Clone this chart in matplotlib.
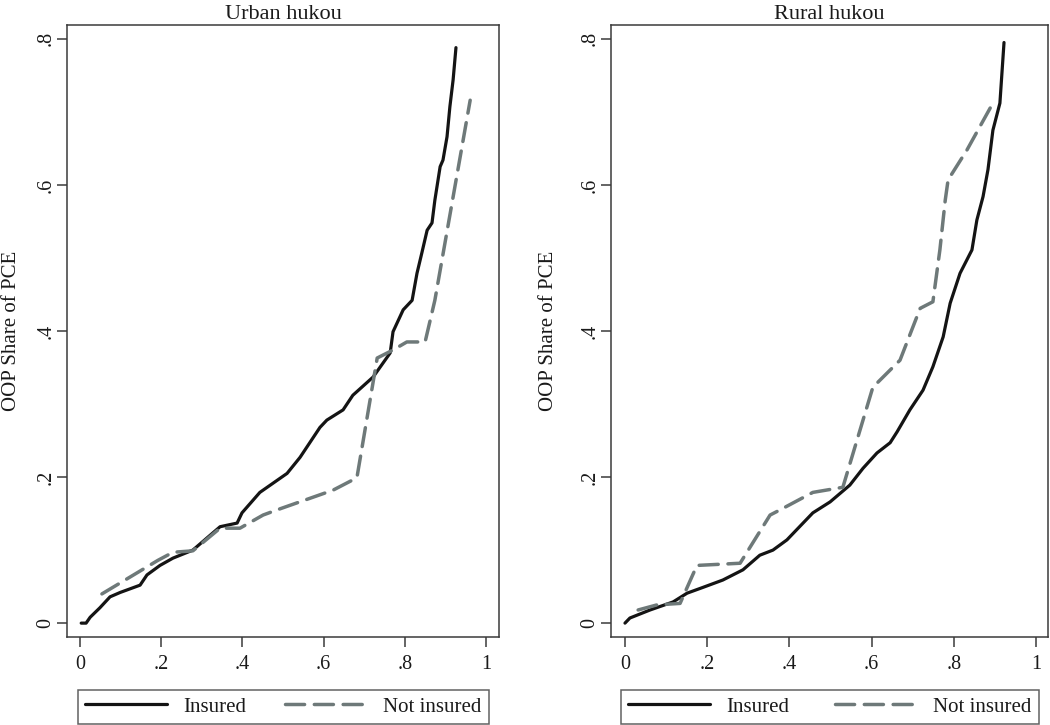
import matplotlib
matplotlib.use("Agg")
import matplotlib.pyplot as plt

plt.rcParams['font.family'] = ['Liberation Serif', 'DejaVu Serif']

# ---- data ----
urban_ins_x = [0.003, 0.015, 0.025, 0.049, 0.074, 0.099, 0.148, 0.165, 0.197, 0.229, 0.278,
               0.345, 0.387, 0.399, 0.443, 0.510, 0.542, 0.591, 0.608, 0.648, 0.672, 0.722,
               0.764, 0.771, 0.796, 0.818, 0.830, 0.842, 0.855, 0.867, 0.874, 0.887, 0.894,
               0.904, 0.911, 0.919, 0.926]
urban_ins_y = [0.000, 0.000, 0.008, 0.021, 0.036, 0.042, 0.052, 0.066, 0.079, 0.089, 0.100,
               0.132, 0.137, 0.151, 0.179, 0.205, 0.227, 0.268, 0.278, 0.292, 0.312, 0.337,
               0.370, 0.399, 0.429, 0.442, 0.479, 0.507, 0.538, 0.548, 0.579, 0.625, 0.634,
               0.666, 0.707, 0.744, 0.788]

urban_not_x = [0.054, 0.192, 0.229, 0.278, 0.345, 0.394, 0.451, 0.485, 0.623, 0.682, 0.732,
               0.771, 0.805, 0.850, 0.874, 0.961]
urban_not_y = [0.040, 0.086, 0.097, 0.099, 0.130, 0.130, 0.148, 0.155, 0.182, 0.199, 0.363,
               0.374, 0.385, 0.385, 0.442, 0.716]

rural_ins_x = [0.000, 0.012, 0.061, 0.117, 0.151, 0.190, 0.238, 0.287, 0.328, 0.360, 0.394,
               0.457, 0.499, 0.547, 0.579, 0.613, 0.645, 0.662, 0.693, 0.725, 0.749, 0.774,
               0.791, 0.815, 0.844, 0.856, 0.871, 0.883, 0.895, 0.912, 0.922]
rural_ins_y = [0.000, 0.007, 0.018, 0.029, 0.041, 0.049, 0.059, 0.073, 0.093, 0.100, 0.114,
               0.151, 0.166, 0.189, 0.212, 0.233, 0.247, 0.262, 0.292, 0.319, 0.351, 0.392,
               0.438, 0.479, 0.511, 0.552, 0.584, 0.621, 0.675, 0.712, 0.795]

rural_not_x = [0.032, 0.078, 0.134, 0.175, 0.280, 0.353, 0.377, 0.457, 0.530, 0.603, 0.669,
               0.718, 0.749, 0.766, 0.779, 0.786, 0.832, 0.891]
rural_not_y = [0.018, 0.025, 0.027, 0.079, 0.082, 0.148, 0.155, 0.179, 0.186, 0.323, 0.360,
               0.431, 0.440, 0.511, 0.579, 0.607, 0.648, 0.708]

panel_titles = ["Urban hukou", "Rural hukou"]
series_labels = ["Insured", "Not insured"]
x_ticks = [0, 0.2, 0.4, 0.6, 0.8, 1.0]
x_ticklabels = ["0", ".2", ".4", ".6", ".8", "1"]
y_ticks = [0, 0.2, 0.4, 0.6, 0.8]
y_ticklabels = ["0", ".2", ".4", ".6", ".8"]
y_label = "OOP Share of PCE"

BLACK = "#141414"
GRAY = "#6e7979"
SPINE = "#3a3a3a"

W, H = 1050, 725
fig = plt.figure(figsize=(W / 100, H / 100), dpi=100)
fig.patch.set_facecolor("white")

def px_axes(x0, x1, y0, y1):
    return fig.add_axes([x0 / W, (H - y1) / H, (x1 - x0) / W, (y1 - y0) / H])

panels = [
    dict(rect=(67, 499, 25, 637), xlim=(-0.032, 1.032), ylab_x=-0.106,
         ins=(urban_ins_x, urban_ins_y), nott=(urban_not_x, urban_not_y),
         leg=(78, 489, 684, 724)),
    dict(rect=(611, 1048, 25, 637), xlim=(-0.034, 1.029), ylab_x=-0.121,
         ins=(rural_ins_x, rural_ins_y), nott=(rural_not_x, rural_not_y),
         leg=(621, 1039, 684, 724)),
]

for title, p in zip(panel_titles, panels):
    ax = px_axes(*p["rect"])
    l1, = ax.plot(p["ins"][0], p["ins"][1], color=BLACK, lw=2.3,
                  solid_joinstyle="round", solid_capstyle="round", label=series_labels[0])
    l2, = ax.plot(p["nott"][0], p["nott"][1], color=GRAY, lw=2.5, dashes=(5.5, 2.8),
                  dash_capstyle="round", label=series_labels[1])
    ax.set_xlim(*p["xlim"])
    ax.set_ylim(-0.019, 0.819)
    ax.set_xticks(x_ticks)
    ax.set_xticklabels(x_ticklabels)
    ax.set_yticks(y_ticks)
    ax.set_yticklabels(y_ticklabels, rotation=90, va="center")
    ax.tick_params(axis="both", direction="out", length=7, width=1.1, color=SPINE,
                   labelsize=14.5, labelcolor="#1a1a1a")
    ax.tick_params(axis="x", pad=6)
    ax.tick_params(axis="y", pad=1.5)
    for s in ax.spines.values():
        s.set_color(SPINE)
        s.set_linewidth(1.1)
    ax.set_title(title, fontsize=16, pad=4, color="#1a1a1a")
    ax.set_ylabel(y_label, fontsize=15, color="#1a1a1a")
    ax.yaxis.set_label_coords(p["ylab_x"], 0.5)

    lx0, lx1, ly0, ly1 = p["leg"]
    leg = fig.legend(handles=[l1, l2], labels=series_labels, ncol=2, mode="expand",
                     loc="lower left",
                     bbox_to_anchor=(lx0 / W, (H - ly1) / H, (lx1 - lx0) / W, (ly1 - ly0) / H),
                     fontsize=15, frameon=True, fancybox=False, handlelength=3.9,
                     handletextpad=0.8, borderpad=0.35, borderaxespad=0.0,
                     columnspacing=2.0)
    fr = leg.get_frame()
    fr.set_edgecolor(SPINE)
    fr.set_linewidth(1.1)
    for t in leg.get_texts():
        t.set_color("#1a1a1a")

fig.savefig("out.png", dpi=100, facecolor="white")
